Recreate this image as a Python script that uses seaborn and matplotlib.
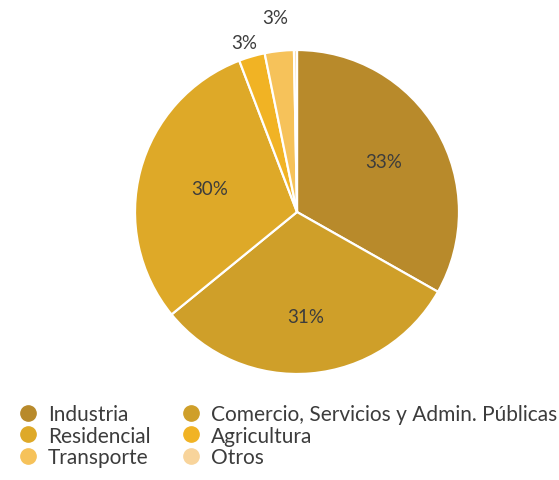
import matplotlib
matplotlib.use("Agg")
import matplotlib.pyplot as plt
from matplotlib.lines import Line2D
import numpy as np
import seaborn as sns

categories = ["Industria", "Comercio, Servicios y Admin. Públicas", "Residencial",
              "Agricultura", "Transporte", "Otros"]
shares = [33.2, 30.9, 30.1, 2.6, 2.9, 0.3]
colors = ["#b88a2b", "#cf9f29", "#dea928", "#f1b324", "#f6c25a", "#f8d49b"]

sns.set_theme(style="white")
plt.rcParams["font.family"] = ["Lato", "DejaVu Sans"]

fig = plt.figure(figsize=(5.59, 4.81), dpi=100)
ax = fig.add_axes([(297 - 170) / 559, 1 - (213 + 170) / 481, 340 / 559, 340 / 481])
ax.axis("off")

wedges, _ = ax.pie(shares, colors=colors, startangle=90, counterclock=False,
                   wedgeprops=dict(edgecolor="white", linewidth=1.6))
ax.set_xlim(-170 / 162, 170 / 162)
ax.set_ylim(-170 / 162, 170 / 162)
ax.set_aspect("equal")

# label placement: inside for large slices, outside for the narrow ones
label_r = [0.62, 0.65, 0.56, 1.09, 1.21, None]
label_shift = [0.0, 0.0, 0.0, -0.02, 0.0, 0.0]
for w, v, r, s in zip(wedges, shares, label_r, label_shift):
    if r is None:
        continue
    ang = np.deg2rad((w.theta1 + w.theta2) / 2)
    x, y = r * np.cos(ang) + s, r * np.sin(ang)
    ax.text(x, y, f"{v:.0f}%", ha="center", va="center", fontsize=13.5,
            color="#3c3c3c")

handles = [Line2D([], [], marker="o", linestyle="none", markersize=11,
                  markerfacecolor=c, markeredgecolor=c) for c in colors]
# two columns filled row by row
order = [0, 2, 4, 1, 3, 5]
fig.legend([handles[i] for i in order], [categories[i] for i in order],
           ncol=2, loc="upper left", bbox_to_anchor=(17.6 / 559, 1 - 405 / 481),
           frameon=False, fontsize=15, handletextpad=0.46, labelspacing=0.08,
           columnspacing=1.45, handlelength=1.0, labelcolor="#3c3c3c",
           borderpad=0.0, borderaxespad=0.0)

fig.savefig("out.png", dpi=100, facecolor="white")
